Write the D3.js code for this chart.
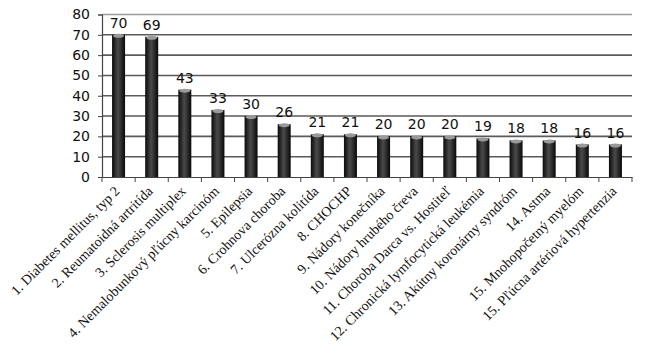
<!DOCTYPE html>
<html><head><meta charset="utf-8">
<script src="https://cdn.jsdelivr.net/npm/d3@7"></script>
<style>body{margin:0;background:#fff}</style>
</head><body>
<svg id="c" width="649" height="360"></svg>
<script>
const categories = ["1. Diabetes mellitus, typ 2","2. Reumatoidná artritída","3. Sclerosis multiplex","4. Nemalobunkový pľúcny karcinóm","5. Epilepsia","6. Crohnova choroba","7. Ulcerózna kolitída","8. CHOCHP","9. Nádory konečníka","10. Nádory hrubého čreva","11. Choroba Darca vs. Hostiteľ","12. Chronická lymfocytická leukémia","13. Akútny koronárny syndróm","14. Astma","15. Mnohopočetný myelóm","15. Pľúcna artériová hypertenzia"];
const values = [70,69,43,33,30,26,21,21,20,20,20,19,18,18,16,16];
const yTicks = [0,10,20,30,40,50,60,70,80];

const svg = d3.select("#c");
const m = {l:102, r:632, t:14.5, b:177};
const x = d3.scaleBand().domain(categories).range([m.l, m.r]).paddingInner(0).paddingOuter(0);
const y = d3.scaleLinear().domain([0,80]).range([m.b, m.t]);

const defs = svg.append("defs");
const g = defs.append("linearGradient").attr("id","bar").attr("x1","0").attr("x2","1").attr("y1","0").attr("y2","0");
g.append("stop").attr("offset","0").attr("stop-color","#0a0a0a");
g.append("stop").attr("offset","0.45").attr("stop-color","#4a4a4a");
g.append("stop").attr("offset","0.6").attr("stop-color","#3a3a3a");
g.append("stop").attr("offset","1").attr("stop-color","#080808");

// gridlines
svg.append("g").selectAll("line").data(yTicks.filter(d=>d>0)).join("line")
  .attr("x1", m.l).attr("x2", m.r).attr("y1", d=>y(d)).attr("y2", d=>y(d))
  .attr("stroke", d=> d===80 ? "#9a9a9a" : "#5a5a5a").attr("stroke-width", 1.6);

// y axis
const ya = svg.append("g").attr("transform",`translate(${m.l},0)`)
  .call(d3.axisLeft(y).tickValues(yTicks).tickSize(4).tickPadding(8));
ya.select(".domain").attr("stroke","#444").attr("stroke-width",1.2);
ya.selectAll(".tick line").attr("stroke","#444");
ya.selectAll("text").attr("font-family","DejaVu Sans, Verdana, sans-serif").attr("font-size",14).attr("fill","#111");

// x axis
const xa = svg.append("g").attr("transform",`translate(0,${m.b})`)
  .call(d3.axisBottom(x).tickSize(0).tickFormat(""));
xa.select(".domain").attr("stroke","#444").attr("stroke-width",1.2);
const bounds = categories.map(c=>x(c)).concat([m.r]);
svg.append("g").selectAll("line").data(bounds).join("line")
  .attr("x1", d=>d).attr("x2", d=>d).attr("y1", m.b).attr("y2", m.b+5)
  .attr("stroke","#444").attr("stroke-width",1);

// bars
const bw = 13;
const bars = svg.append("g");
bars.selectAll("rect").data(values).join("rect")
  .attr("x",(d,i)=>x(categories[i])+x.bandwidth()/2-bw/2)
  .attr("y",d=>y(d)).attr("width",bw).attr("height",d=>y(0)-y(d))
  .attr("fill","url(#bar)");
bars.selectAll("ellipse").data(values).join("ellipse")
  .attr("cx",(d,i)=>x(categories[i])+x.bandwidth()/2)
  .attr("cy",d=>y(d)+1).attr("rx",bw/2-1).attr("ry",2)
  .attr("fill","#9a9a9a");

// value labels
svg.append("g").selectAll("text").data(values).join("text")
  .attr("x",(d,i)=>x(categories[i])+x.bandwidth()/2)
  .attr("y",d=>y(d)-7).attr("text-anchor","middle")
  .attr("font-family","DejaVu Sans, Verdana, sans-serif").attr("font-size",14).attr("fill","#111")
  .text(d=>d);

// category labels
svg.append("g").selectAll("text").data(categories).join("text")
  .attr("transform",c=>`translate(${x(c)+x.bandwidth()/2+2},${m.b+15}) rotate(-45)`)
  .attr("text-anchor","end")
  .attr("font-family","Liberation Serif, Times New Roman, serif").attr("font-size",14).attr("fill","#111")
  .text(c=>c);
</script>
</body></html>
